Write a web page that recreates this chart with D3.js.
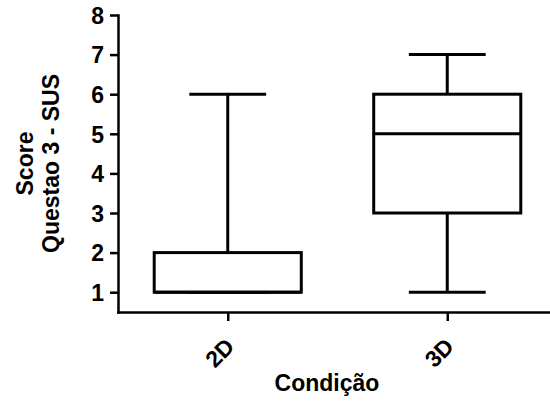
<!DOCTYPE html>
<html>
<head>
<meta charset="utf-8">
<script src="https://cdn.jsdelivr.net/npm/d3@7"></script>
<style>
  html, body { margin: 0; padding: 0; background: #fff; }
  svg { display: block; }
  text { font-family: "Liberation Sans", Arial, sans-serif; font-weight: bold; fill: #000; }
</style>
</head>
<body>
<svg id="chart" width="550" height="401"></svg>
<script>
const categories = ["2D", "3D"];
const mins    = [1, 1];
const q1s     = [1, 3];
const medians = [1, 5];
const q3s     = [2, 6];
const maxs    = [6, 7];
const yTicks  = [1, 2, 3, 4, 5, 6, 7, 8];
const yTitle1 = "Score";
const yTitle2 = "Questao 3 - SUS";
const xTitle  = "Condição";

const svg = d3.select("#chart");
const axisX0 = 118, axisY0 = 312, axisTop = 15;
const FONT = '"Liberation Sans", Arial, sans-serif';

const y = d3.scaleLinear().domain([0.5, 8]).range([axisY0, axisTop]);
const x = d3.scalePoint().domain(categories).range([axisX0, 557]).padding(0.5);
const step = x.step();
const boxW = step * 0.67;
const capW = step * 0.35;

// Y axis
const gy = svg.append("g").attr("transform", `translate(${axisX0},0)`)
  .call(d3.axisLeft(y).tickValues(yTicks).tickFormat(d3.format("d")).tickSize(8).tickSizeOuter(0).tickPadding(6));
gy.select(".domain").attr("stroke", "#000").attr("stroke-width", 2.5).attr("stroke-linecap", "square");
gy.selectAll(".tick line").attr("stroke", "#000").attr("stroke-width", 2.5);
gy.selectAll(".tick text").style("font-size", "23px").style("font-family", FONT).style("font-weight", "bold").attr("dy", "0.36em");

// X axis (labels drawn separately, rotated)
const gx = svg.append("g").attr("transform", `translate(0,${axisY0})`)
  .call(d3.axisBottom(x).tickSize(9).tickSizeOuter(0).tickFormat(""));
gx.select(".domain").attr("stroke", "#000").attr("stroke-width", 2.5).attr("stroke-linecap", "square");
gx.selectAll(".tick line").attr("stroke", "#000").attr("stroke-width", 2.5);

svg.append("g").selectAll("text").data(categories).join("text")
  .attr("text-anchor", "end")
  .style("font-size", "23px")
  .attr("transform", d => `translate(${x(d) + 8},${axisY0 + 36}) rotate(-45)`)
  .text(d => d);

// Boxes
const data = categories.map((c, i) => ({ c, min: mins[i], q1: q1s[i], med: medians[i], q3: q3s[i], max: maxs[i] }));
const g = svg.append("g").attr("stroke", "#000").attr("stroke-width", 3).attr("fill", "none");
data.forEach(d => {
  const cx = x(d.c);
  g.append("line").attr("x1", cx).attr("x2", cx).attr("y1", y(d.max)).attr("y2", y(d.q3));
  g.append("line").attr("x1", cx).attr("x2", cx).attr("y1", y(d.q1)).attr("y2", y(d.min));
  g.append("line").attr("x1", cx - capW / 2).attr("x2", cx + capW / 2).attr("y1", y(d.max)).attr("y2", y(d.max));
  g.append("line").attr("x1", cx - capW / 2).attr("x2", cx + capW / 2).attr("y1", y(d.min)).attr("y2", y(d.min));
  g.append("rect").attr("x", cx - boxW / 2).attr("width", boxW)
    .attr("y", y(d.q3)).attr("height", y(d.q1) - y(d.q3)).attr("fill", "#fff");
  g.append("line").attr("x1", cx - boxW / 2).attr("x2", cx + boxW / 2).attr("y1", y(d.med)).attr("y2", y(d.med));
});

// Titles
svg.append("text").attr("transform", `translate(33,${(axisY0 + axisTop) / 2}) rotate(-90)`)
  .attr("text-anchor", "middle").style("font-size", "23px").text(yTitle1);
svg.append("text").attr("transform", `translate(59,${(axisY0 + axisTop) / 2}) rotate(-90)`)
  .attr("text-anchor", "middle").style("font-size", "23px").text(yTitle2);
svg.append("text").attr("x", 327).attr("y", 391).attr("text-anchor", "middle")
  .style("font-size", "23px").text(xTitle);
</script>
</body>
</html>
